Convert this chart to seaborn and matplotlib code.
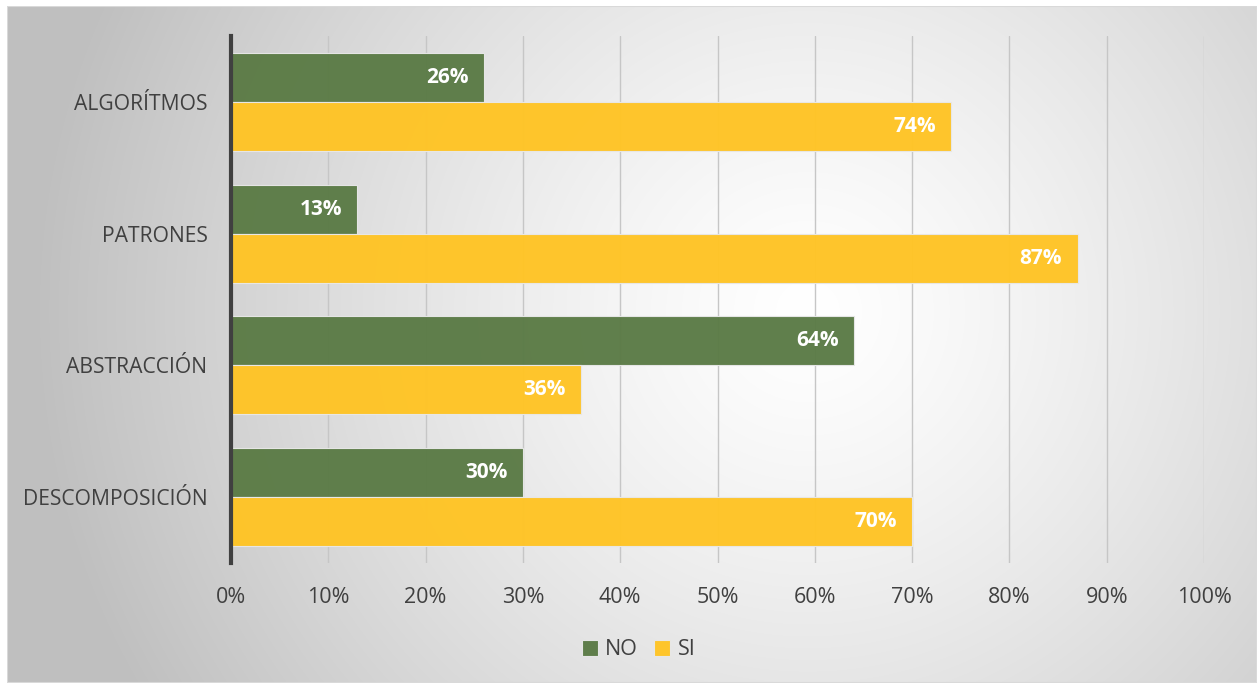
import numpy as np
import pandas as pd
import matplotlib
matplotlib.use("Agg")
import matplotlib.pyplot as plt
import seaborn as sns
from matplotlib.ticker import FuncFormatter

categories = ["ALGORÍTMOS", "PATRONES", "ABSTRACCIÓN", "DESCOMPOSICIÓN"]
no_values = [26, 13, 64, 30]
si_values = [74, 87, 36, 70]
series = ["NO", "SI"]
xticks = list(range(0, 101, 10))

df = pd.DataFrame({
    "cat": categories * 2,
    "val": no_values + si_values,
    "serie": [series[0]] * 4 + [series[1]] * 4,
})

sns.set_theme(style="white")
plt.rcParams['font.family'] = ['Open Sans', 'DejaVu Sans']

W, H = 1257, 683
fig = plt.figure(figsize=(W / 100, H / 100), dpi=100)
fig.patch.set_facecolor("white")

# background panel with radial gradient
bg = fig.add_axes([7 / W, 0, 1 - 7 / W, 1 - 6 / H])
bg.set_axis_off()
ny, nx = 340, 625
yy, xx = np.mgrid[0:ny, 0:nx]
cx, cy = 0.64 * nx, 0.45 * ny
r = np.sqrt(((xx - cx) / nx) ** 2 + ((yy - cy) / ny * 0.55) ** 2)
r = np.clip(r / 0.62, 0, 1)
g = 1.0 - 0.25 * r ** 1.3
img = np.dstack([g, g, g])
bg.imshow(img, aspect="auto", extent=[0, 1, 0, 1], interpolation="bilinear")
bg.set_xlim(0, 1); bg.set_ylim(0, 1)
bg.add_patch(plt.Rectangle((0, 0), 1, 1, fill=False, edgecolor="#d9d9d9", lw=1.5,
                           transform=bg.transAxes))

ax = fig.add_axes([231 / W, 1 - 563 / H, (1204 - 231) / W, (563 - 36) / H])
ax.patch.set_alpha(0)

palette = {"NO": "#5B7B46", "SI": "#FFC425"}
sns.barplot(data=df, y="cat", x="val", hue="serie", order=categories,
            hue_order=series, palette=palette, orient="h", width=0.745,
            saturation=1, ax=ax, edgecolor="#e8e8e8", linewidth=0.8,
            alpha=0.97, zorder=3, legend=True)

ax.set_xlim(0, 100)
ax.set_xticks(xticks)
ax.xaxis.set_major_formatter(FuncFormatter(lambda v, p: f"{int(v)}%"))
ax.grid(axis="x", color="#c6c6c6", lw=1.0, zorder=0)
ax.set_axisbelow(True)
ax.set_xlabel(""); ax.set_ylabel("")
for s in ["top", "right", "bottom"]:
    ax.spines[s].set_visible(False)
ax.spines["left"].set_color("#404040")
ax.spines["left"].set_linewidth(3)
ax.spines["left"].set_zorder(5)
ax.tick_params(axis="x", length=0, pad=17, labelsize=15.5, labelcolor="#404040")
ax.tick_params(axis="y", length=0, pad=17, labelsize=15.2, labelcolor="#404040")

for cont in ax.containers:
    for b in cont:
        w = b.get_width()
        ax.annotate(f"{int(round(w))}%", xy=(w, b.get_y() + b.get_height() / 2),
                    xytext=(-11, 0), textcoords="offset points", ha="right",
                    va="center", color="white", fontsize=15, fontweight="bold",
                    zorder=6)

leg = ax.legend(loc="upper center", bbox_to_anchor=(0.419, -0.108), ncol=2,
                frameon=False, fontsize=15.5, handlelength=0.75, handleheight=0.75,
                handletextpad=0.35, columnspacing=0.75, labelcolor="#404040")

fig.savefig("out.png", dpi=100)
